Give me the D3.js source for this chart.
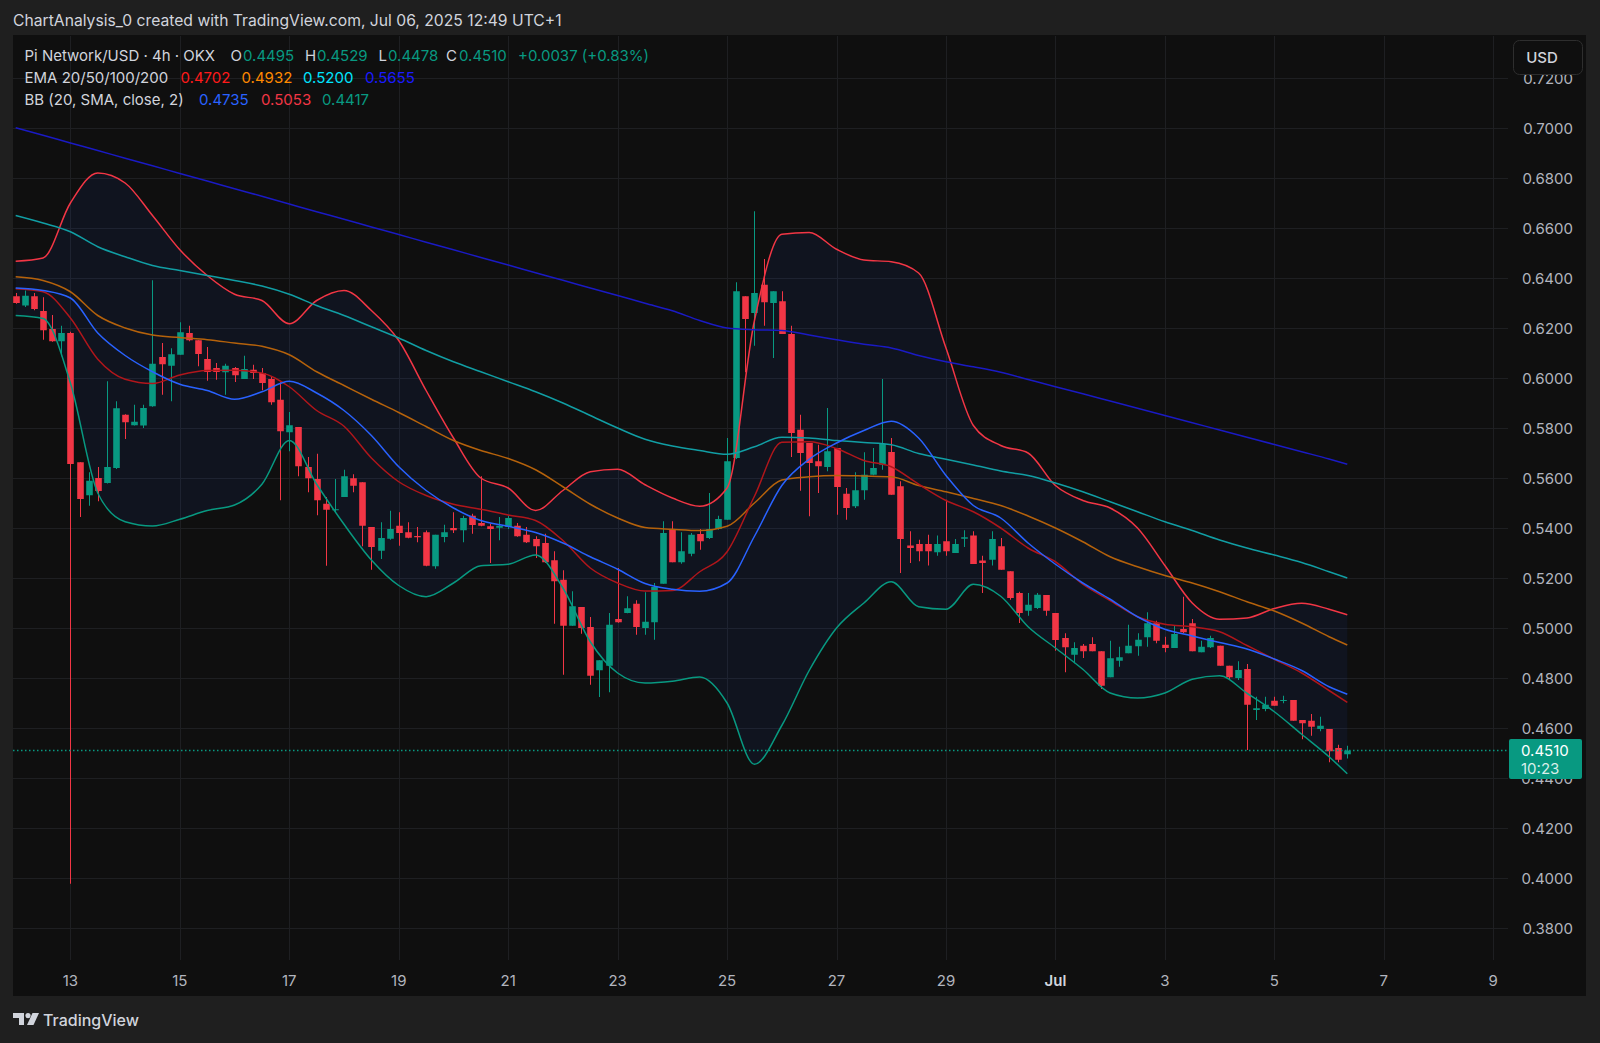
<!DOCTYPE html>
<html>
<head>
<meta charset="utf-8">
<script src="https://cdn.jsdelivr.net/npm/d3@7"></script>
<style>
  html, body { margin: 0; padding: 0; background: #1f1f1f; }
  svg { display: block; font-family: Inter, "Noto Sans", sans-serif; }
</style>
</head>
<body>
<svg id="chart" width="1600" height="1043"></svg>
<script>
// ---- candles, 4h bars starting Jun 12 2025 00:00 ----
const opens = [
  0.6327, 0.6290, 0.6327, 0.6268, 0.6196, 0.6147, 0.6180, 0.5663, 0.5531, 0.5600,
  0.5580, 0.5640, 0.5853, 0.5811, 0.5810, 0.5887, 0.6084, 0.6049, 0.6093, 0.6180,
  0.6151, 0.6076, 0.6040, 0.6023, 0.6040, 0.5996, 0.6033, 0.6020, 0.5996, 0.5913,
  0.5783, 0.5804, 0.5644, 0.5596, 0.5497, 0.5471, 0.5524, 0.5599, 0.5583, 0.5404,
  0.5309, 0.5357, 0.5409, 0.5383, 0.5368, 0.5383, 0.5247, 0.5364, 0.5400, 0.5391,
  0.5449, 0.5420, 0.5407, 0.5401, 0.5404, 0.5409, 0.5373, 0.5356, 0.5340, 0.5271,
  0.5193, 0.5009, 0.5084, 0.5004, 0.4831, 0.4849, 0.5036, 0.5060, 0.5097, 0.5000,
  0.5023, 0.5177, 0.5396, 0.5263, 0.5297, 0.5376, 0.5360, 0.5396, 0.5433, 0.5680,
  0.6327, 0.6260, 0.6373, 0.6300, 0.6307, 0.6176, 0.5793, 0.5740, 0.5667, 0.5644,
  0.5720, 0.5537, 0.5487, 0.5551, 0.5613, 0.5653, 0.5704, 0.5567, 0.5330, 0.5336,
  0.5336, 0.5303, 0.5347, 0.5300, 0.5357, 0.5370, 0.5270, 0.5273, 0.5327, 0.5227,
  0.5140, 0.5069, 0.5080, 0.5132, 0.5060, 0.4960, 0.4893, 0.4929, 0.4936, 0.4907,
  0.4803, 0.4869, 0.4899, 0.4927, 0.4963, 0.5019, 0.4933, 0.4920, 0.4996, 0.5019,
  0.4903, 0.4923, 0.4929, 0.4849, 0.4800, 0.4836, 0.4672, 0.4676, 0.4709, 0.4709,
  0.4712, 0.4632, 0.4629, 0.4596, 0.4596, 0.4520, 0.4495
];
const highs = [
  0.6340, 0.6350, 0.6340, 0.6323, 0.6252, 0.6209, 0.6185, 0.5663, 0.5623, 0.5644,
  0.5987, 0.5907, 0.5855, 0.5893, 0.5893, 0.6391, 0.6140, 0.6119, 0.6223, 0.6209,
  0.6151, 0.6124, 0.6060, 0.6057, 0.6044, 0.6089, 0.6053, 0.6040, 0.6007, 0.5983,
  0.5864, 0.5804, 0.5684, 0.5697, 0.5524, 0.5596, 0.5633, 0.5615, 0.5583, 0.5404,
  0.5423, 0.5469, 0.5463, 0.5423, 0.5404, 0.5390, 0.5373, 0.5413, 0.5463, 0.5449,
  0.5457, 0.5607, 0.5417, 0.5444, 0.5449, 0.5420, 0.5404, 0.5367, 0.5377, 0.5307,
  0.5231, 0.5147, 0.5084, 0.5044, 0.4871, 0.5060, 0.5240, 0.5127, 0.5111, 0.5143,
  0.5180, 0.5427, 0.5427, 0.5383, 0.5380, 0.5396, 0.5540, 0.5449, 0.5760, 0.6383,
  0.6327, 0.6667, 0.6476, 0.6347, 0.6347, 0.6209, 0.5853, 0.5740, 0.5733, 0.5880,
  0.5720, 0.5560, 0.5623, 0.5703, 0.5720, 0.5996, 0.5760, 0.5587, 0.5387, 0.5353,
  0.5373, 0.5370, 0.5513, 0.5356, 0.5391, 0.5387, 0.5289, 0.5387, 0.5360, 0.5227,
  0.5145, 0.5140, 0.5140, 0.5132, 0.5060, 0.4979, 0.4943, 0.4936, 0.4963, 0.4907,
  0.4949, 0.4925, 0.5013, 0.4979, 0.5063, 0.5029, 0.4965, 0.5009, 0.5125, 0.5036,
  0.4949, 0.4969, 0.4929, 0.4849, 0.4867, 0.4856, 0.4725, 0.4725, 0.4725, 0.4729,
  0.4712, 0.4632, 0.4656, 0.4645, 0.4596, 0.4533, 0.4529
];
const lows = [
  0.6297, 0.6284, 0.6271, 0.6153, 0.6145, 0.6087, 0.3977, 0.5444, 0.5489, 0.5507,
  0.5578, 0.5636, 0.5756, 0.5810, 0.5800, 0.5885, 0.5933, 0.5907, 0.6093, 0.6147,
  0.6047, 0.5989, 0.5993, 0.5933, 0.5984, 0.5996, 0.5996, 0.5951, 0.5893, 0.5511,
  0.5707, 0.5607, 0.5543, 0.5451, 0.5249, 0.5463, 0.5524, 0.5543, 0.5327, 0.5233,
  0.5276, 0.5353, 0.5329, 0.5359, 0.5343, 0.5247, 0.5237, 0.5343, 0.5380, 0.5343,
  0.5377, 0.5407, 0.5260, 0.5351, 0.5396, 0.5365, 0.5340, 0.5280, 0.5260, 0.5017,
  0.4813, 0.5009, 0.4977, 0.4773, 0.4724, 0.4743, 0.5021, 0.5059, 0.4973, 0.4973,
  0.4953, 0.5177, 0.5263, 0.5257, 0.5287, 0.5313, 0.5356, 0.5393, 0.5433, 0.5676,
  0.6023, 0.6129, 0.6209, 0.6080, 0.6176, 0.5684, 0.5549, 0.5447, 0.5540, 0.5627,
  0.5453, 0.5433, 0.5480, 0.5513, 0.5611, 0.5633, 0.5533, 0.5220, 0.5260, 0.5267,
  0.5250, 0.5289, 0.5289, 0.5300, 0.5324, 0.5256, 0.5140, 0.5250, 0.5233, 0.5113,
  0.5020, 0.5049, 0.5076, 0.5049, 0.4909, 0.4823, 0.4859, 0.4880, 0.4907, 0.4756,
  0.4803, 0.4845, 0.4899, 0.4889, 0.4925, 0.4939, 0.4903, 0.4920, 0.4979, 0.4907,
  0.4903, 0.4920, 0.4849, 0.4796, 0.4792, 0.4512, 0.4632, 0.4667, 0.4689, 0.4699,
  0.4629, 0.4555, 0.4569, 0.4587, 0.4463, 0.4463, 0.4478
];
const closes = [
  0.6300, 0.6329, 0.6276, 0.6191, 0.6147, 0.6180, 0.5656, 0.5516, 0.5589, 0.5548,
  0.5644, 0.5879, 0.5823, 0.5825, 0.5880, 0.6057, 0.6055, 0.6095, 0.6183, 0.6151,
  0.6096, 0.6024, 0.6024, 0.6049, 0.6011, 0.6036, 0.6020, 0.5980, 0.5903, 0.5787,
  0.5811, 0.5647, 0.5599, 0.5511, 0.5473, 0.5475, 0.5607, 0.5569, 0.5409, 0.5324,
  0.5360, 0.5396, 0.5380, 0.5361, 0.5363, 0.5249, 0.5373, 0.5383, 0.5391, 0.5440,
  0.5412, 0.5409, 0.5396, 0.5409, 0.5440, 0.5367, 0.5343, 0.5327, 0.5263, 0.5187,
  0.5009, 0.5087, 0.5000, 0.4809, 0.4871, 0.5013, 0.5023, 0.5079, 0.5004, 0.5025,
  0.5164, 0.5380, 0.5263, 0.5307, 0.5373, 0.5347, 0.5396, 0.5436, 0.5667, 0.6347,
  0.6236, 0.6340, 0.6303, 0.6347, 0.6176, 0.5780, 0.5700, 0.5660, 0.5647, 0.5707,
  0.5564, 0.5480, 0.5551, 0.5613, 0.5640, 0.5736, 0.5533, 0.5356, 0.5320, 0.5307,
  0.5307, 0.5336, 0.5307, 0.5336, 0.5363, 0.5256, 0.5260, 0.5356, 0.5233, 0.5120,
  0.5060, 0.5093, 0.5133, 0.5069, 0.4952, 0.4923, 0.4920, 0.4907, 0.4907, 0.4769,
  0.4879, 0.4883, 0.4929, 0.4953, 0.5019, 0.4949, 0.4920, 0.4976, 0.4983, 0.4907,
  0.4925, 0.4960, 0.4849, 0.4803, 0.4832, 0.4693, 0.4679, 0.4693, 0.4689, 0.4712,
  0.4629, 0.4619, 0.4605, 0.4609, 0.4507, 0.4473, 0.4510
];

// ---- indicator readings, every 3rd bar (plus last bar) ----
const lineBars = [
  0, 3, 6, 9, 12, 15, 18, 21, 24, 27, 30, 33, 36, 39, 42, 45, 48, 51, 54, 57,
  60, 63, 66, 69, 72, 75, 78, 81, 84, 87, 90, 93, 96, 99, 102, 105, 108, 111, 114, 117,
  120, 123, 126, 129, 132, 135, 138, 141, 144, 146
];
const ema20 = [
  0.6357, 0.6345, 0.6240, 0.6075, 0.5995, 0.5978, 0.6012, 0.6030, 0.6031, 0.6020,
  0.5965, 0.5870, 0.5807, 0.5680, 0.5585, 0.5530, 0.5495, 0.5475, 0.5452, 0.5430,
  0.5350, 0.5240, 0.5180, 0.5148, 0.5150, 0.5225, 0.5305, 0.5527, 0.5743, 0.5745,
  0.5718, 0.5670, 0.5645, 0.5575, 0.5510, 0.5465, 0.5400, 0.5320, 0.5265, 0.5175,
  0.5110, 0.5045, 0.5015, 0.5005, 0.4985, 0.4930, 0.4875, 0.4820, 0.4750, 0.4702
];
const ema50 = [
  0.6405, 0.6390, 0.6345, 0.6250, 0.6200, 0.6172, 0.6162, 0.6153, 0.6140, 0.6127,
  0.6093, 0.6025, 0.5970, 0.5915, 0.5862, 0.5806, 0.5750, 0.5710, 0.5678, 0.5633,
  0.5565, 0.5495, 0.5440, 0.5402, 0.5395, 0.5390, 0.5407, 0.5500, 0.5592, 0.5605,
  0.5610, 0.5608, 0.5605, 0.5570, 0.5545, 0.5518, 0.5490, 0.5448, 0.5400, 0.5345,
  0.5285, 0.5245, 0.5210, 0.5180, 0.5145, 0.5105, 0.5068, 0.5020, 0.4965, 0.4932
];
const ema100 = [
  0.6650, 0.6620, 0.6585, 0.6525, 0.6485, 0.6450, 0.6430, 0.6410, 0.6390, 0.6368,
  0.6335, 0.6290, 0.6250, 0.6205, 0.6160, 0.6110, 0.6065, 0.6025, 0.5985, 0.5945,
  0.5900, 0.5850, 0.5800, 0.5755, 0.5728, 0.5710, 0.5695, 0.5725, 0.5763, 0.5760,
  0.5750, 0.5742, 0.5733, 0.5698, 0.5675, 0.5652, 0.5628, 0.5610, 0.5580, 0.5545,
  0.5505, 0.5465, 0.5425, 0.5390, 0.5352, 0.5320, 0.5292, 0.5262, 0.5225, 0.5200
];
const ema200 = [
  0.7001, 0.6971, 0.6940, 0.6910, 0.6879, 0.6849, 0.6818, 0.6788, 0.6757, 0.6727,
  0.6696, 0.6665, 0.6635, 0.6604, 0.6574, 0.6543, 0.6513, 0.6482, 0.6452, 0.6421,
  0.6391, 0.6360, 0.6330, 0.6299, 0.6269, 0.6230, 0.6200, 0.6193, 0.6190, 0.6172,
  0.6153, 0.6135, 0.6120, 0.6090, 0.6065, 0.6045, 0.6023, 0.5994, 0.5965, 0.5937,
  0.5908, 0.5879, 0.5850, 0.5821, 0.5792, 0.5763, 0.5734, 0.5705, 0.5676, 0.5655
];
const bbBasis = [
  0.6360, 0.6350, 0.6320, 0.6180, 0.6090, 0.6025, 0.5975, 0.5950, 0.5915, 0.5945,
  0.5987, 0.5940, 0.5870, 0.5770, 0.5645, 0.5550, 0.5480, 0.5430, 0.5407, 0.5382,
  0.5340, 0.5285, 0.5235, 0.5178, 0.5155, 0.5147, 0.5180, 0.5367, 0.5570, 0.5675,
  0.5740, 0.5790, 0.5827, 0.5760, 0.5610, 0.5490, 0.5440, 0.5340, 0.5255, 0.5180,
  0.5115, 0.5045, 0.4995, 0.4968, 0.4942, 0.4916, 0.4876, 0.4830, 0.4765, 0.4735
];
const bbUpper = [
  0.6467, 0.6480, 0.6700, 0.6820, 0.6780, 0.6650, 0.6513, 0.6410, 0.6335, 0.6310,
  0.6217, 0.6310, 0.6350, 0.6270, 0.6150, 0.5950, 0.5760, 0.5600, 0.5560, 0.5470,
  0.5550, 0.5625, 0.5635, 0.5573, 0.5520, 0.5487, 0.5560, 0.6230, 0.6575, 0.6582,
  0.6515, 0.6472, 0.6465, 0.6420, 0.6120, 0.5810, 0.5730, 0.5700, 0.5570, 0.5510,
  0.5480, 0.5400, 0.5250, 0.5100, 0.5035, 0.5040, 0.5078, 0.5099, 0.5075, 0.5053
];
const bbLower = [
  0.6250, 0.6238, 0.5980, 0.5540, 0.5425, 0.5408, 0.5435, 0.5470, 0.5492, 0.5575,
  0.5750, 0.5575, 0.5415, 0.5272, 0.5170, 0.5125, 0.5180, 0.5249, 0.5255, 0.5292,
  0.5160, 0.4945, 0.4820, 0.4780, 0.4787, 0.4804, 0.4700, 0.4455, 0.4610, 0.4830,
  0.5000, 0.5100, 0.5185, 0.5085, 0.5075, 0.5175, 0.5127, 0.5005, 0.4920, 0.4835,
  0.4740, 0.4720, 0.4740, 0.4795, 0.4809, 0.4739, 0.4665, 0.4575, 0.4485, 0.4417
];

const priceTicks = [0.38, 0.40, 0.42, 0.44, 0.46, 0.48, 0.50, 0.52, 0.54, 0.56,
                    0.58, 0.60, 0.62, 0.64, 0.66, 0.68, 0.70, 0.72];
const countdown = "10:23";

// ---- layout ----
const W = 1600, H = 1043;
const plot = { left: 13, right: 1508, top: 36, bottom: 960 };
const colors = {
  outer: '#1f1f1f', pane: '#0f0f0f', grid: '#1e1f22',
  text: '#d1d4dc', axisText: '#b2b5be',
  up: '#089981', down: '#f23645',
  ema20: '#b0161b', ema50: '#b5620b', ema100: '#119ea4', ema200: '#1a1ac4',
  bbBasis: '#2962ff', bbUpper: '#f23645', bbLower: '#089981',
  bbFill: 'rgba(41,98,255,0.07)'
};

const HOUR = 36e5, DAY = 24 * HOUR;
const firstBar = new Date(2025, 5, 12).getTime();
const barTime = k => new Date(firstBar + k * 4 * HOUR);
const jun13 = new Date(2025, 5, 13).getTime();

const x = d3.scaleTime()
  .domain([new Date(jun13 - 1.049 * DAY), new Date(jun13 + 26.27 * DAY)])
  .range([plot.left, plot.right]);
const y = d3.scaleLinear().domain([0.38, 0.70]).range([928, 128]);

const svg = d3.select('#chart');
svg.append('rect').attr('width', W).attr('height', H).attr('fill', colors.outer);
svg.append('rect').attr('x', 13).attr('y', 35).attr('width', 1573).attr('height', 961)
  .attr('fill', colors.pane);

svg.append('defs').append('clipPath').attr('id', 'clip')
  .append('rect').attr('x', plot.left).attr('y', plot.top)
  .attr('width', plot.right - plot.left).attr('height', plot.bottom - plot.top);

// grid
const timeTicks = x.ticks(d3.timeDay.every(2));
const grid = svg.append('g');
grid.selectAll('.hg').data(priceTicks).join('line')
  .attr('x1', plot.left).attr('x2', plot.right)
  .attr('y1', d => Math.round(y(d)) + 0.5).attr('y2', d => Math.round(y(d)) + 0.5)
  .attr('stroke', colors.grid);
grid.selectAll('.vg').data(timeTicks).join('line')
  .attr('x1', d => Math.round(x(d)) + 0.5).attr('x2', d => Math.round(x(d)) + 0.5)
  .attr('y1', plot.top).attr('y2', plot.bottom)
  .attr('stroke', colors.grid);

const chart = svg.append('g').attr('clip-path', 'url(#clip)');

// Bollinger fill + lines
const lx = i => x(barTime(lineBars[i]));
const area = d3.area()
  .x((d, i) => lx(i))
  .y0((d, i) => y(bbLower[i]))
  .y1((d, i) => y(bbUpper[i]))
  .curve(d3.curveMonotoneX);
chart.append('path').datum(bbUpper).attr('d', area).attr('fill', colors.bbFill);

const drawLine = (values, color) => {
  const line = d3.line().x((d, i) => lx(i)).y(d => y(d)).curve(d3.curveMonotoneX);
  chart.append('path').datum(values).attr('d', line)
    .attr('fill', 'none').attr('stroke', color).attr('stroke-width', 1.5);
};

// candles
const bars = d3.range(opens.length).map(k => ({
  t: barTime(k), o: opens[k], h: highs[k], l: lows[k], c: closes[k]
}));
const bodyW = 6.6;
const candle = chart.append('g').selectAll('g').data(bars).join('g');
candle.append('line')
  .attr('x1', d => Math.round(x(d.t)) + 0.5).attr('x2', d => Math.round(x(d.t)) + 0.5)
  .attr('y1', d => y(d.h)).attr('y2', d => y(d.l))
  .attr('stroke', d => d.c >= d.o ? colors.up : colors.down).attr('stroke-width', 1);
candle.append('rect')
  .attr('x', d => Math.round(x(d.t)) + 0.5 - bodyW / 2)
  .attr('y', d => y(Math.max(d.o, d.c)))
  .attr('width', bodyW)
  .attr('height', d => Math.max(1, Math.abs(y(d.o) - y(d.c))))
  .attr('fill', d => d.c >= d.o ? colors.up : colors.down);

drawLine(bbUpper, colors.bbUpper);
drawLine(bbLower, colors.bbLower);
drawLine(ema200, colors.ema200);
drawLine(ema100, colors.ema100);
drawLine(ema50, colors.ema50);
drawLine(ema20, colors.ema20);
drawLine(bbBasis, colors.bbBasis);

// last price line
const last = closes[closes.length - 1];
svg.append('line')
  .attr('x1', plot.left).attr('x2', plot.right)
  .attr('y1', y(last)).attr('y2', y(last))
  .attr('stroke', colors.up).attr('stroke-width', 1.3).attr('stroke-dasharray', '1.5,2.5');

// price axis (the tag and the button cover parts of two labels, as in TradingView)
svg.append('g').selectAll('text').data(priceTicks).join('text')
  .attr('x', 1573).attr('y', d => y(d) + 5.5)
  .attr('text-anchor', 'end').attr('font-size', 15).attr('fill', colors.axisText)
  .text(d3.format('.4f'));

// time axis
svg.append('g').selectAll('text').data(timeTicks).join('text')
  .attr('x', d => x(d)).attr('y', 986)
  .attr('text-anchor', 'middle').attr('font-size', 15)
  .attr('font-weight', d => d.getDate() === 1 ? 600 : 400)
  .attr('fill', d => d.getDate() === 1 ? colors.text : colors.axisText)
  .text(d => d.getDate() === 1 ? d3.timeFormat('%b')(d) : d.getDate());

// USD button
svg.append('rect').attr('x', 1513.5).attr('y', 40.5).attr('width', 69).attr('height', 34)
  .attr('rx', 6).attr('fill', colors.pane).attr('stroke', '#2e2e2e');
svg.append('text').attr('x', 1542).attr('y', 63).attr('text-anchor', 'middle')
  .attr('font-size', 15).attr('font-weight', 500).attr('fill', colors.text).text('USD');

// last price tag
svg.append('rect').attr('x', 1509).attr('y', 739).attr('width', 73).attr('height', 40)
  .attr('rx', 2).attr('fill', colors.up);
svg.append('text').attr('x', 1521).attr('y', 756)
  .attr('font-size', 15).attr('fill', '#ffffff').text(d3.format('.4f')(last));
svg.append('text').attr('x', 1521).attr('y', 774)
  .attr('font-size', 15).attr('fill', 'rgba(255,255,255,0.85)').text(countdown);

// header
svg.append('text').attr('x', 13).attr('y', 26).attr('font-size', 15.7)
  .attr('fill', colors.text)
  .text('ChartAnalysis_0 created with TradingView.com, Jul 06, 2025 12:49 UTC+1');

// legend
const f4 = d3.format('.4f');
const n = closes.length - 1;
const chg = closes[n] - closes[n - 1];
const legend = svg.append('g').attr('font-size', 15);
const addRow = (yPos, parts) => {
  parts.forEach(([str, color, xPos]) => {
    legend.append('text').attr('x', xPos).attr('y', yPos).attr('fill', color).text(str);
  });
};
addRow(61, [
  ['Pi Network/USD · 4h · OKX', colors.text, 24.5],
  ['O', colors.text, 230.5], [f4(opens[n]), colors.up, 243],
  ['H', colors.text, 305], [f4(highs[n]), colors.up, 317],
  ['L', colors.text, 378.5], [f4(lows[n]), colors.up, 388],
  ['C', colors.text, 446], [f4(closes[n]), colors.up, 459],
  [(chg >= 0 ? '+' : '') + f4(chg) + ' (' + (chg >= 0 ? '+' : '') +
    d3.format('.2f')(chg / closes[n - 1] * 100) + '%)', colors.up, 518]
]);
addRow(83, [
  ['EMA 20/50/100/200', colors.text, 24.5],
  [f4(ema20[ema20.length - 1]), '#ff1a1a', 180.5],
  [f4(ema50[ema50.length - 1]), '#ff8a00', 241.5],
  [f4(ema100[ema100.length - 1]), '#00e5ff', 303],
  [f4(ema200[ema200.length - 1]), '#1a1aff', 365]
]);
addRow(105, [
  ['BB (20, SMA, close, 2)', colors.text, 24.5],
  [f4(bbBasis[bbBasis.length - 1]), colors.bbBasis, 199],
  [f4(bbUpper[bbUpper.length - 1]), colors.bbUpper, 261],
  [f4(bbLower[bbLower.length - 1]), colors.bbLower, 322]
]);

// footer logo
const logo = svg.append('g').attr('transform', 'translate(13,1013)').attr('fill', colors.text);
logo.append('path').attr('d', 'M0 0 H11 V12 H6 V5 H0 Z');
logo.append('circle').attr('cx', 15).attr('cy', 2.6).attr('r', 2.6);
logo.append('path').attr('d', 'M19.5 0 H26 L20.5 12 H14 Z');
svg.append('text').attr('x', 43).attr('y', 1026).attr('font-size', 16)
  .attr('font-weight', 500).attr('fill', colors.text).text('TradingView');
</script>
</body>
</html>
